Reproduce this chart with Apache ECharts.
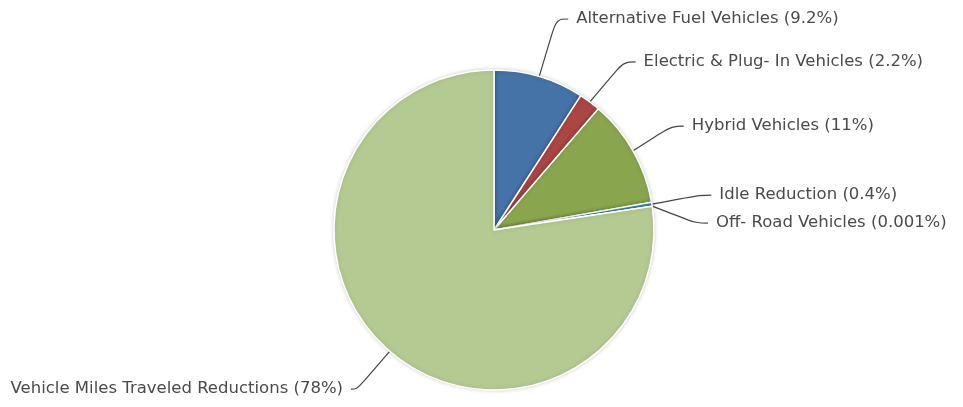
<!DOCTYPE html>
<html>
<head>
<meta charset="utf-8">
<script src="https://cdn.jsdelivr.net/npm/echarts@6/dist/echarts.min.js"></script>
<style>html,body{margin:0;padding:0;background:#fff}#c{width:963px;height:407px}</style>
</head>
<body>
<div id="c"></div>
<script>
const categories = ['Alternative Fuel Vehicles', 'Electric & Plug- In Vehicles', 'Hybrid Vehicles', 'Idle Reduction', 'Off- Road Vehicles', 'Vehicle Miles Traveled Reductions'];
const values = [9.2, 2.2, 11, 0.4, 0.001, 78];
const valueLabels = ['9.2%', '2.2%', '11%', '0.4%', '0.001%', '78%'];
const colors = ['#4572A7', '#AA4643', '#89A54E', '#3D96AE', '#DB843D', '#B5CA92'];

const lineLen = { 0: 60, 1: 50, 2: 50, 3: 56, 4: 50, 5: 50 };
const chart = echarts.init(document.getElementById('c'));
const data = categories.map((n, i) => {
  const item = { name: n, value: values[i], itemStyle: { color: colors[i] }, labelLine: { length: lineLen[i], length2: i === 5 ? 6 : 12 } };
  if (i === 3 || i === 4) item.label = { lineHeight: 26 };
  return item;
});
chart.setOption({
  animation: false,
  series: [{
    type: 'pie',
    center: [494, 230],
    radius: 160,
    startAngle: 90,
    clockwise: true,
    avoidLabelOverlap: true,
    data: data,
    itemStyle: { borderColor: '#fff', borderWidth: 1.5, shadowBlur: 4, shadowColor: 'rgba(0,0,0,0.18)' },
    label: {
      show: true,
      formatter: p => p.name + ' (' + valueLabels[p.dataIndex] + ')',
      fontFamily: 'DejaVu Sans',
      fontSize: 16.5,
      color: '#4a4a4a',
      overflow: 'none',
      distanceToLabelLine: 8
    },
    labelLine: { show: true, smooth: 0.4, lineStyle: { color: '#444', width: 1.2 } },
    emphasis: { disabled: true }
  }]
});
</script>
</body>
</html>
